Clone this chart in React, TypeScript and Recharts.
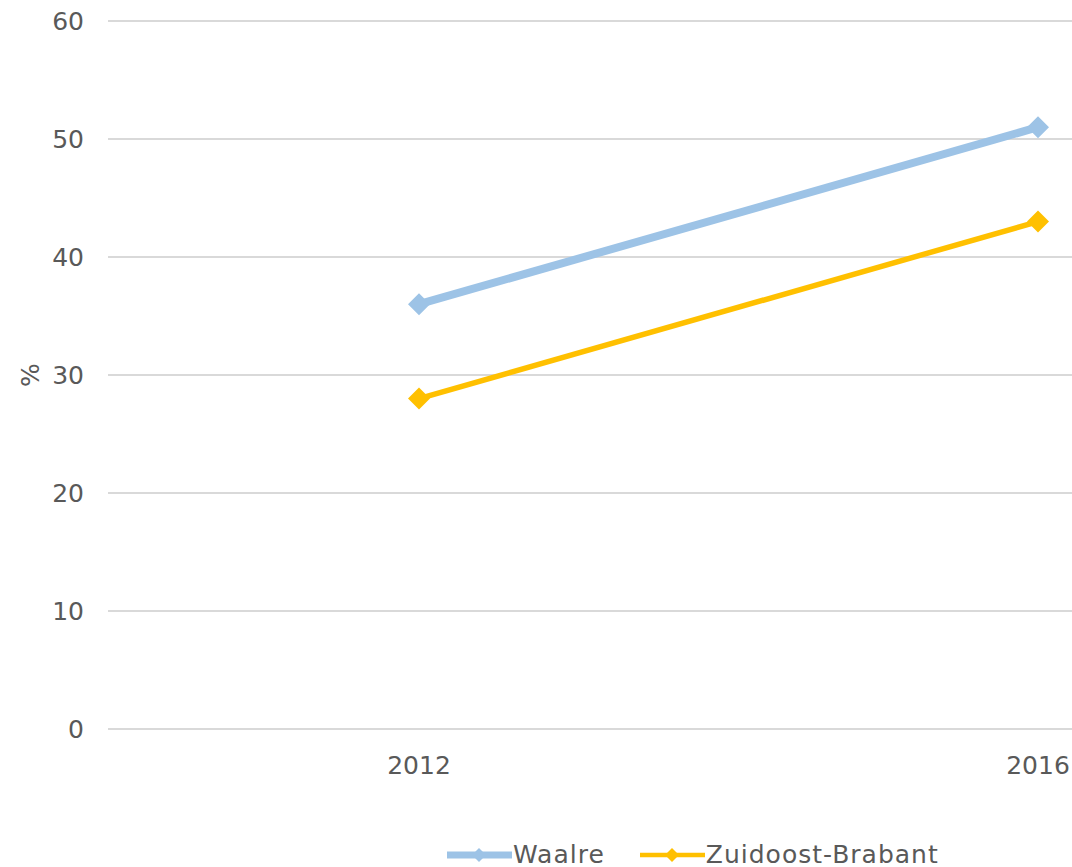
import React from "react";
import { LineChart, Line, XAxis, YAxis, CartesianGrid, Legend } from "recharts";

const years = ["2012", "2016"];
const waalre = [36, 51];
const zuidoostBrabant = [28, 43];
const yTicks = [0, 10, 20, 30, 40, 50, 60];

const series = [
  { key: "waalre", name: "Waalre", color: "#9DC3E6", width: 8, marker: 11 },
  { key: "zob", name: "Zuidoost-Brabant", color: "#FFC000", width: 5.5, marker: 11 },
];

const data = years.map((year, i) => ({
  year,
  waalre: waalre[i],
  zob: zuidoostBrabant[i],
}));

const FONT = "Verdana, 'DejaVu Sans', sans-serif";
const TEXT = "#595959";
const FS = 25;

function Diamond(props: any) {
  const { cx, cy, fill, r } = props;
  if (cx == null || cy == null) return null;
  return (
    <path
      d={`M${cx},${cy - r} L${cx + r},${cy} L${cx},${cy + r} L${cx - r},${cy} Z`}
      fill={fill}
    />
  );
}

function LegendContent() {
  return (
    <div
      style={{
        display: "flex",
        justifyContent: "flex-start",
        paddingLeft: 447,
        fontFamily: FONT,
        fontSize: FS,
        letterSpacing: 1,
        color: TEXT,
        lineHeight: "30px",
        height: 30,
      }}
    >
      {series.map((s, i) => (
        <div
          key={s.key}
          style={{ display: "flex", alignItems: "center", marginRight: i === 0 ? 35 : 0 }}
        >
          <svg width={65} height={30} style={{ marginRight: 1 }}>
            <line x1={0} y1={15} x2={65} y2={15} stroke={s.color} strokeWidth={s.width - 1} />
            <Diamond cx={32} cy={15} r={7} fill={s.color} />
          </svg>
          <span>{s.name}</span>
        </div>
      ))}
    </div>
  );
}

export default function App() {
  return (
    <div style={{ position: "absolute", left: 0, top: 0, background: "#fff" }}>
      <LineChart
        width={1072}
        height={867}
        data={data}
        margin={{ top: 21, right: 0, bottom: 108, left: 0 }}
      >
        <CartesianGrid vertical={false} stroke="#D9D9D9" strokeWidth={2} />
        <XAxis
          dataKey="year"
          padding={{ left: 311, right: 34 }}
          axisLine={false}
          tickLine={false}
          tickSize={0}
          tickMargin={27}
          tick={{ fontSize: FS, fill: TEXT, fontFamily: FONT }}
        />
        <YAxis
          domain={[0, 60]}
          ticks={yTicks}
          width={108}
          axisLine={false}
          tickLine={false}
          tickSize={0}
          tickMargin={24}
          tick={{ fontSize: FS, fill: TEXT, fontFamily: FONT }}
          label={{
            content: (props: any) => {
              const vb = props.viewBox || { y: 21, height: 708 };
              const cy = vb.y + vb.height / 2;
              return (
                <text
                  x={30}
                  y={cy}
                  transform={`rotate(-90 30 ${cy})`}
                  textAnchor="middle"
                  dominantBaseline="central"
                  fontSize={FS}
                  fontFamily={FONT}
                  fill={TEXT}
                >
                  %
                </text>
              );
            },
          }}
        />
        <Legend
          verticalAlign="middle"
          layout="horizontal"
          wrapperStyle={{ position: "absolute", top: 840, left: 0, width: 1072 }}
          content={<LegendContent />}
        />
        {series.map((s) => (
          <Line
            key={s.key}
            dataKey={s.key}
            name={s.name}
            stroke={s.color}
            strokeWidth={s.width}
            isAnimationActive={false}
            dot={(p: any) => <Diamond key={`${s.key}-${p.index}`} cx={p.cx} cy={p.cy} r={s.marker} fill={s.color} />}
            activeDot={false}
          />
        ))}
      </LineChart>
    </div>
  );
}
